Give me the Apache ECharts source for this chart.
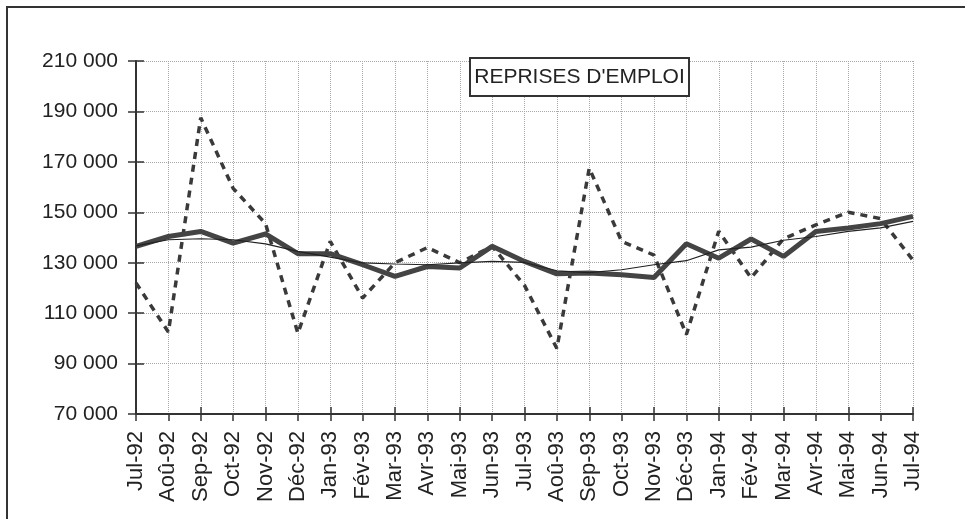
<!DOCTYPE html>
<html>
<head>
<meta charset="utf-8">
<script src="https://cdn.jsdelivr.net/npm/echarts@6/dist/echarts.min.js"></script>
<style>
html,body{margin:0;padding:0;background:#fff;}
#c{width:965px;height:519px;}
</style>
</head>
<body>
<div id="c"></div>
<script>
var categories = ['Jul-92','Aoû-92','Sep-92','Oct-92','Nov-92','Déc-92','Jan-93','Fév-93','Mar-93','Avr-93','Mai-93','Jun-93','Jul-93','Aoû-93','Sep-93','Oct-93','Nov-93','Déc-93','Jan-94','Fév-94','Mar-94','Avr-94','Mai-94','Jun-94','Jul-94'];
var brut = [122000,102500,187500,159500,145500,102000,138500,116000,130000,136000,130000,136500,121000,96000,167500,138500,133000,101500,142500,124000,139500,145000,150000,147500,131000];
var cvs = [136500,140400,142400,137800,141400,133600,133600,129200,124600,128500,127900,136500,130500,125600,125900,125200,124100,137500,131800,139400,132500,142400,143800,145500,148400];
var tendance = [136700,139100,139500,139100,137500,134500,132200,129900,129500,129200,129900,130500,130100,126800,126100,127200,129200,130800,135100,136200,138900,140400,142400,143800,146400];
var titleText = "REPRISES D'EMPLOI";
var yMin = 70000, yMax = 210000, yStep = 20000;

var chart = echarts.init(document.getElementById('c'));
var axisColor = '#333';
var ff = '"Liberation Sans", Arial, sans-serif';
var fmt = function(v){ return String(v).replace(/\B(?=(\d{3})+(?!\d))/g, ' '); };
chart.setOption({
  animation: false,
  backgroundColor: '#fff',
  grid: {left: 136, top: 61, right: 52, bottom: 105, containLabel: false},
  graphic: [
    {type:'rect', shape:{x:7,y:7,width:1000,height:600}, style:{fill:'none', stroke:'#333', lineWidth:2}, z:0},
    {type:'rect', shape:{x:470,y:58,width:219,height:38}, style:{fill:'#fff', stroke:'#333', lineWidth:2}, z:10},
    {type:'text', x:579.5, y:77, style:{text:titleText, fontSize:21, fontFamily:ff, fill:'#222', align:'center', verticalAlign:'middle'}, z:11}
  ],
  xAxis: [
    {type:'category', data:categories, boundaryGap:false, position:'bottom',
     axisLine:{show:true, lineStyle:{color:axisColor, width:2}},
     axisTick:{show:true, inside:false, length:7, lineStyle:{color:axisColor, width:1.5}},
     axisLabel:{rotate:90, fontSize:22, color:'#222', fontFamily:ff, margin:17, interval:0},
     splitLine:{show:true, lineStyle:{color:'#aaa', type:'dotted', width:1}}},
    {type:'category', data:categories, boundaryGap:false, position:'bottom',
     axisLine:{show:false},
     axisTick:{show:true, inside:true, length:7, lineStyle:{color:axisColor, width:1.5}},
     axisLabel:{show:false}, splitLine:{show:false}}
  ],
  yAxis: [
    {type:'value', min:yMin, max:yMax, interval:yStep, position:'left',
     axisLine:{show:true, lineStyle:{color:axisColor, width:2}},
     axisTick:{show:true, inside:false, length:8, lineStyle:{color:axisColor, width:1.5}},
     axisLabel:{formatter:fmt, fontSize:21, color:'#222', fontFamily:ff, margin:18},
     splitLine:{show:true, lineStyle:{color:'#aaa', type:'dotted', width:1}}},
    {type:'value', min:yMin, max:yMax, interval:yStep, position:'left',
     axisLine:{show:false},
     axisTick:{show:true, inside:true, length:8, lineStyle:{color:axisColor, width:1.5}},
     axisLabel:{show:false}, splitLine:{show:false}}
  ],
  series: [
    {name:'Brut', type:'line', data:brut, symbol:'none', xAxisIndex:0, yAxisIndex:0,
     lineStyle:{color:'#3a3a3a', width:3.5, type:[7,6]}, z:3},
    {name:'CVS', type:'line', data:cvs, symbol:'none', xAxisIndex:0, yAxisIndex:0,
     lineStyle:{color:'#444', width:5}, z:4},
    {name:'Tendance', type:'line', data:tendance, symbol:'none', xAxisIndex:0, yAxisIndex:0,
     lineStyle:{color:'#222', width:1.2}, z:5}
  ]
});
</script>
</body>
</html>
